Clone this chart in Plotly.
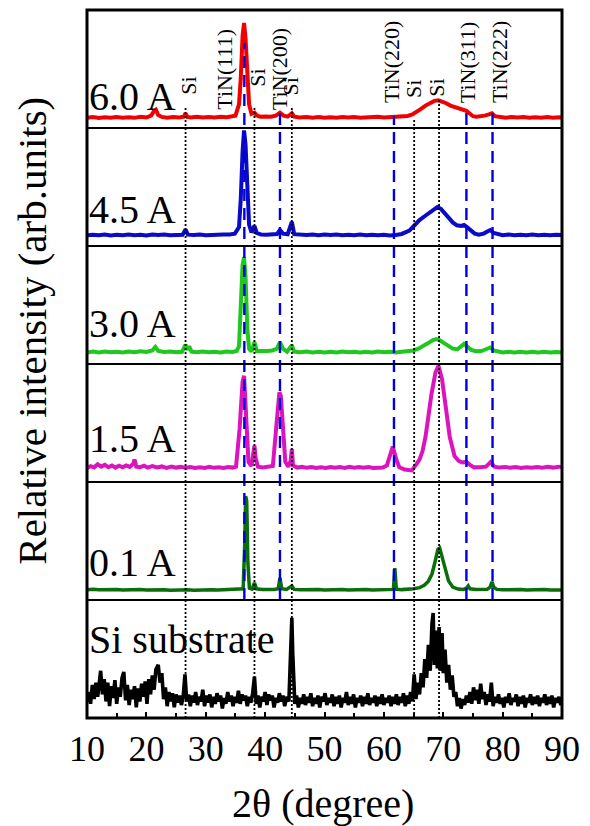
import plotly.graph_objects as go
from plotly.subplots import make_subplots

# ---------------- data ----------------
panel_labels = ["6.0 A", "4.5 A", "3.0 A", "1.5 A", "0.1 A", "Si substrate"]
colors = ["#f00000", "#0a0ac8", "#1ec81e", "#dc14be", "#0a6e0a", "#000000"]

tin_pos = [36.5, 42.5, 61.7, 73.9, 78.3]
tin_names = ["TiN(111)", "TiN(200)", "TiN(220)", "TiN(311)", "TiN(222)"]
tin_top = [72, 17, 10, 17, 17]          # extent of dashed line inside top panel
si_pos = [26.6, 38.2, 44.5, 65.1, 69.3]
si_top = [17, 18, 18, 8, 24.5]          # extent of dotted line inside top panel

x_ticks = [10, 20, 30, 40, 50, 60, 70, 80, 90]

s60 = [(10, 8.6), (11, 9.3), (12, 8.4), (13, 9.1), (14, 8.7), (15, 9.4), (16, 8.8), (17, 9.2), (18, 8.6),
       (19, 9.5), (20, 9.0), (20.8, 10.5), (21.3, 14.5), (21.6, 15.5), (22.0, 11), (22.6, 9.4), (23.5, 8.8),
       (24.5, 9.3), (25.5, 8.9), (26.3, 9.5), (26.6, 12.5), (26.9, 9.4), (27.5, 9.0), (28.5, 9.5), (29.5, 8.9),
       (30.5, 9.4), (31.5, 9.0), (32.5, 9.6), (33.5, 9.2), (34.3, 9.8), (35.0, 10.5), (35.6, 20), (35.9, 42),
       (36.2, 78), (36.45, 89), (36.7, 76), (37.0, 42), (37.3, 20), (37.7, 12), (38.2, 13), (38.6, 10.5),
       (39.2, 9.6), (40.0, 9.8), (41.0, 9.5), (41.8, 10.5), (42.5, 13), (43.1, 10.5), (43.8, 9.6), (44.5, 12.5),
       (44.9, 9.6), (45.8, 9.0), (47, 9.4), (48, 8.8), (49, 9.3), (50, 8.7), (51, 9.2), (52, 8.8), (53, 9.4),
       (54, 8.9), (55, 9.3), (56, 8.7), (57, 9.2), (58, 8.9), (59, 9.5), (60, 9.0), (61, 9.4), (62, 9.2),
       (63, 9.8), (64, 10.2), (64.8, 11.5), (65.5, 13.5), (66.2, 16), (67.0, 19), (67.8, 21.5), (68.5, 23),
       (69.2, 23.5), (69.8, 22.5), (70.5, 21), (71.2, 19), (72.0, 17.5), (72.8, 16), (73.5, 15), (73.9, 14.5),
       (74.4, 12.5), (75.0, 10), (75.6, 9.6), (76.3, 9.8), (77.0, 10.5), (77.7, 11.5), (78.2, 12.5), (78.7, 10),
       (79.5, 9.2), (80.5, 8.8), (81.5, 9.3), (82.5, 8.9), (83.5, 9.4), (84.5, 8.8), (85.5, 9.2), (86.5, 8.7),
       (87.5, 9.3), (88.5, 8.8), (89.5, 9.2), (90, 8.9)]

s45 = [(10, 9.0), (11, 9.6), (12, 9.1), (13, 9.7), (14, 9.0), (15, 9.5), (16, 9.1), (17, 9.8), (18, 9.2),
       (19, 9.6), (20, 9.0), (21, 9.7), (22, 9.3), (23, 9.8), (24, 9.2), (25, 9.6), (26.1, 9.5), (26.6, 14),
       (27.0, 9.6), (28, 9.3), (29, 9.7), (30, 9.2), (31, 9.6), (32, 9.3), (33, 9.8), (34, 9.8), (34.9, 10.5),
       (35.6, 16), (35.9, 40), (36.2, 80), (36.45, 98), (36.7, 86), (37.0, 45), (37.3, 18), (37.7, 11.5),
       (38.2, 17), (38.6, 11), (39.3, 9.8), (40.2, 9.5), (41.2, 9.8), (42.0, 10.2), (42.5, 13.5), (43.0, 10.5),
       (43.8, 10), (44.5, 20.5), (44.9, 10), (45.8, 9.6), (47, 9.3), (48, 9.8), (49, 9.2), (50, 9.7), (51, 9.3),
       (52, 9.8), (53, 9.2), (54, 9.6), (55, 9.1), (56, 9.7), (57, 9.2), (58, 9.6), (59, 9.1), (60, 9.5),
       (61, 9.0), (62, 9.4), (63, 10.2), (64.3, 13), (65.2, 18), (66.0, 22), (66.8, 25), (67.5, 27.5),
       (68.3, 31), (69.0, 33), (69.6, 31.5), (70.2, 28.5), (70.9, 24), (71.6, 20), (72.3, 17.5), (73.0, 17),
       (73.5, 17.8), (74.0, 16), (74.6, 13), (75.3, 10.5), (76.0, 9.5), (76.8, 10.5), (77.5, 12.5), (77.9, 13.5),
       (78.5, 11), (79.3, 9.6), (80, 9.2), (81, 9.7), (82, 9.2), (83, 9.6), (84, 9.1), (85, 9.7), (86, 9.2),
       (87, 9.6), (88, 9.1), (89, 9.6), (90, 9.3)]

s30 = [(10, 9.7), (11, 10.5), (12, 9.8), (13, 10.6), (14, 9.9), (15, 10.4), (16, 9.7), (17, 10.5), (18, 10.0),
       (19, 10.8), (20, 10.2), (21, 11.5), (21.5, 14.5), (22, 11), (23, 10.2), (24, 10.6), (25, 9.9), (26.0, 10.3),
       (26.6, 16.5), (26.9, 12), (27.2, 15), (27.6, 10.5), (28.5, 10), (29.5, 10.6), (30.5, 9.9), (31.5, 10.4),
       (32.5, 9.8), (33.5, 10.5), (34.5, 10.2), (35.2, 11), (35.6, 15), (35.9, 45), (36.2, 84), (36.45, 90.5),
       (36.7, 74), (37.0, 30), (37.3, 13), (37.7, 10.5), (38.2, 18.5), (38.6, 11), (39.4, 10.6), (40.3, 11),
       (41.2, 11.5), (42.0, 13), (42.5, 18.5), (43.0, 13), (43.7, 10.5), (44.5, 16), (44.9, 10.5), (45.8, 10),
       (47, 10.5), (48, 9.8), (49, 10.4), (50, 9.7), (51, 10.3), (52, 9.8), (53, 10.5), (54, 9.9), (55, 10.4),
       (56, 9.7), (57, 10.3), (58, 9.8), (59, 10.5), (60, 9.9), (61, 10.4), (62, 9.8), (63, 10.3), (64, 10.6),
       (65.0, 11.5), (65.8, 13), (66.6, 15), (67.4, 17.5), (68.2, 20), (68.8, 21), (69.4, 20), (70.0, 18),
       (70.8, 15), (71.6, 13), (72.4, 12.5), (73.0, 14.5), (73.5, 17), (74.0, 15), (74.7, 12), (75.5, 10.8),
       (76.4, 11), (77.2, 12.5), (77.9, 14), (78.5, 11.5), (79.3, 10.3), (80, 9.8), (81, 10.4), (82, 9.8),
       (83, 10.3), (84, 9.7), (85, 10.4), (86, 9.8), (87, 10.3), (88, 9.7), (89, 10.2), (90, 9.8)]

s15 = [(10, 11.8), (10.6, 13.5), (11.2, 12.4), (11.8, 15), (12.4, 13), (13, 14.5), (13.6, 12.5), (14.2, 14),
       (14.8, 12.2), (15.4, 13.8), (16, 12.5), (16.6, 14), (17.2, 12.8), (17.8, 15.5), (18.0, 19), (18.3, 13),
       (19, 12.6), (19.6, 13.8), (20.2, 12.2), (21, 13.5), (21.8, 12.4), (22.6, 13.2), (23.4, 12.0), (24.2, 13.0),
       (25, 12.2), (25.8, 12.8), (26.6, 12.0), (27.4, 12.6), (28.2, 11.8), (29, 12.4), (29.8, 11.9), (30.6, 12.8),
       (31.4, 12.0), (32.2, 12.5), (33, 11.8), (33.8, 12.6), (34.5, 12.2), (35.1, 13), (35.7, 45), (36.2, 85),
       (36.45, 90), (36.75, 60), (37.2, 17), (37.7, 13.5), (38.0, 22), (38.2, 31), (38.4, 20), (38.8, 13),
       (39.6, 12.4), (40.4, 12.8), (41.3, 13.5), (41.9, 48), (42.4, 76), (42.65, 73), (43.0, 42), (43.4, 17),
       (43.9, 13), (44.3, 18), (44.5, 28), (44.7, 14), (45.4, 12.2), (46.2, 12.8), (47, 12.0), (47.8, 12.6),
       (48.6, 11.8), (49.4, 12.5), (50.2, 11.9), (51, 12.6), (51.8, 12.0), (52.6, 12.7), (53.4, 11.9), (54.2, 12.8),
       (55, 12.1), (55.8, 12.7), (56.6, 12.0), (57.4, 12.6), (58.2, 11.9), (59, 12.4), (59.8, 12.2), (60.5, 14),
       (61.0, 21.5), (61.5, 30), (62.1, 19), (62.6, 12.5), (63.5, 10.5), (64.7, 9.8), (65.4, 14.5), (66.0, 19),
       (66.5, 26), (67.0, 38), (67.4, 52), (68.0, 74), (68.7, 93), (69.2, 98.5), (69.8, 87), (70.3, 66),
       (71.1, 38), (71.9, 22), (72.6, 18), (73.2, 16.5), (73.9, 17), (74.5, 14.5), (75.2, 12.4), (76.2, 12.6),
       (77.2, 13), (78.0, 17), (78.6, 13), (79.5, 12.2), (80.4, 12.8), (81.3, 12.0), (82.2, 12.6), (83.1, 11.9),
       (84, 12.5), (84.9, 12.0), (85.8, 12.7), (86.7, 12.1), (87.6, 12.9), (88.5, 12.2), (89.4, 13), (90, 12.4)]

s01 = [(10, 8.6), (11, 9.0), (12, 8.6), (13, 8.9), (14, 8.5), (15, 8.8), (16, 8.4), (17, 8.8), (18, 8.5),
       (19, 8.9), (20, 8.5), (21, 8.8), (22, 8.4), (23, 8.7), (24, 8.3), (25, 8.6), (26, 8.4), (27, 8.7),
       (28, 8.3), (29, 8.6), (30, 8.4), (31, 8.7), (32, 8.5), (33, 8.8), (34, 8.6), (35, 8.9), (35.9, 9.0),
       (36.3, 9.5), (36.55, 45), (36.72, 88), (36.9, 84), (37.1, 31), (37.35, 10), (37.8, 9.2), (38.2, 14.5),
       (38.55, 9.5), (39.5, 9.0), (40.5, 8.8), (41.5, 9.0), (42.2, 9.5), (42.5, 18.8), (42.8, 9.5), (43.6, 9.0),
       (44.5, 12), (44.9, 9.0), (46, 8.7), (47, 8.9), (48, 8.5), (49, 8.8), (50, 8.4), (51, 8.7), (52, 8.5),
       (53, 8.8), (54, 8.4), (55, 8.7), (56, 8.5), (57, 8.8), (58, 8.4), (59, 8.7), (60, 8.5), (61, 8.8),
       (61.6, 9), (61.85, 27), (62.1, 9.2), (63, 8.8), (64, 9.0), (65.0, 9.5), (66.0, 10.5), (66.8, 12.5),
       (67.5, 16), (68.1, 22), (68.6, 32), (69.1, 43), (69.4, 44), (69.8, 36), (70.3, 25), (70.9, 16),
       (71.6, 11), (72.5, 9.3), (73.4, 9.0), (73.9, 10), (74.2, 12), (74.5, 9.5), (75.5, 8.9), (76.5, 8.8),
       (77.4, 9.0), (77.9, 11), (78.2, 15.5), (78.5, 11), (79.0, 9.0), (80, 8.6), (81, 8.8), (82, 8.5),
       (83, 8.8), (84, 8.4), (85, 8.7), (86, 8.5), (87, 8.8), (88, 8.4), (89, 8.7), (90, 8.5)]

s_si = [(10.0, 14), (10.3, 22), (10.6, 12), (10.9, 28), (11.2, 16), (11.5, 30), (11.8, 18), (12.1, 36),
        (12.3, 40), (12.6, 20), (12.9, 33), (13.2, 14), (13.5, 30), (13.8, 10), (14.1, 27), (14.4, 17),
        (14.7, 32), (15.0, 12), (15.3, 26), (15.6, 18), (15.9, 34), (16.2, 39), (16.5, 15), (16.8, 28),
        (17.1, 11), (17.4, 24), (17.7, 16), (18.0, 27), (18.3, 9), (18.6, 25), (18.9, 14), (19.2, 29),
        (19.5, 18), (19.8, 31), (20.1, 12), (20.4, 33), (20.7, 20), (21.0, 36), (21.3, 24), (21.6, 41),
        (22.0, 45), (22.3, 30), (22.6, 38), (22.9, 16), (23.2, 26), (23.5, 10), (23.8, 22), (24.1, 14),
        (24.4, 21), (24.7, 9), (25.0, 20), (25.3, 13), (25.6, 19), (25.9, 11), (26.2, 18), (26.5, 37),
        (26.8, 14), (27.1, 20), (27.4, 10), (27.7, 19), (28.0, 13), (28.3, 22), (28.6, 11), (28.9, 18),
        (29.2, 14), (29.5, 24), (29.8, 10), (30.1, 19), (30.4, 13), (30.7, 20), (31.0, 9), (31.3, 18),
        (31.6, 12), (31.9, 21), (32.2, 14), (32.5, 19), (32.8, 8), (33.1, 17), (33.4, 12), (33.7, 22),
        (34.0, 14), (34.3, 19), (34.6, 10), (34.9, 18), (35.2, 13), (35.5, 23), (35.8, 12), (36.1, 20),
        (36.4, 15), (36.7, 19), (37.0, 10), (37.3, 18), (37.6, 13), (37.9, 21), (38.2, 35), (38.5, 12),
        (38.8, 19), (39.1, 9), (39.4, 18), (39.7, 14), (40.0, 22), (40.3, 11), (40.6, 20), (40.9, 15),
        (41.2, 19), (41.5, 9), (41.8, 17), (42.1, 13), (42.4, 21), (42.7, 14), (43.0, 19), (43.3, 10),
        (43.6, 18), (44.0, 14), (44.35, 60), (44.5, 85), (44.65, 55), (45.0, 12), (45.3, 19), (45.6, 9),
        (45.9, 17), (46.2, 12), (46.5, 20), (46.8, 11), (47.1, 18), (47.4, 13), (47.7, 21), (48.0, 10),
        (48.3, 17), (48.6, 12), (48.9, 19), (49.2, 9), (49.5, 18), (49.8, 14), (50.1, 21), (50.4, 11),
        (50.7, 17), (51.0, 13), (51.3, 20), (51.6, 10), (51.9, 18), (52.2, 12), (52.5, 19), (52.8, 9),
        (53.1, 17), (53.4, 13), (53.7, 22), (54.0, 11), (54.3, 18), (54.6, 12), (54.9, 20), (55.2, 9),
        (55.5, 17), (55.8, 13), (56.1, 19), (56.4, 10), (56.7, 18), (57.0, 12), (57.3, 21), (57.6, 11),
        (57.9, 17), (58.2, 13), (58.5, 19), (58.8, 10), (59.1, 18), (59.4, 12), (59.7, 20), (60.0, 11),
        (60.3, 17), (60.6, 13), (60.9, 19), (61.2, 10), (61.5, 18), (61.8, 12), (62.1, 20), (62.4, 11),
        (62.7, 18), (63.0, 13), (63.3, 21), (63.6, 10), (63.9, 19), (64.2, 12), (64.5, 22), (64.8, 14),
        (65.1, 37), (65.4, 16), (65.7, 30), (66.0, 20), (66.3, 38), (66.6, 26), (66.9, 50), (67.2, 34),
        (67.5, 62), (67.8, 40), (68.1, 80), (68.3, 89), (68.5, 45), (68.8, 74), (69.0, 42), (69.3, 77),
        (69.5, 40), (69.8, 72), (70.0, 38), (70.3, 58), (70.6, 30), (70.9, 45), (71.2, 24), (71.5, 36),
        (71.8, 18), (72.1, 22), (72.4, 10), (72.7, 17), (73.0, 8), (73.3, 16), (73.6, 11), (73.9, 19),
        (74.2, 13), (74.5, 22), (74.8, 12), (75.1, 26), (75.4, 15), (75.7, 24), (76.0, 12), (76.3, 29),
        (76.6, 16), (76.9, 22), (77.2, 11), (77.5, 20), (77.8, 14), (78.1, 30), (78.4, 10), (78.7, 18),
        (79.0, 13), (79.3, 20), (79.6, 12), (79.9, 17), (80.2, 9), (80.5, 18), (80.8, 13), (81.1, 21),
        (81.4, 11), (81.7, 17), (82.0, 14), (82.3, 20), (82.6, 10), (82.9, 18), (83.2, 12), (83.5, 19),
        (83.8, 9), (84.1, 17), (84.4, 13), (84.7, 20), (85.0, 11), (85.3, 18), (85.6, 12), (85.9, 19),
        (86.2, 10), (86.5, 17), (86.8, 13), (87.1, 20), (87.4, 11), (87.7, 18), (88.0, 12), (88.3, 19),
        (88.6, 9), (88.9, 17), (89.2, 13), (89.5, 18), (89.8, 11), (90.0, 15)]

series = [s60, s45, s30, s15, s01, s_si]

# ---------------- layout helpers ----------------
W, H = 590, 826
ML, MR, MT, MB = 87, 22, 10, 108
PW, PH = W - ML - MR, H - MT - MB
FONT = "'Liberation Serif', 'Times New Roman', Times, 'DejaVu Serif', serif"


def py(px):   # pixel y -> paper y
    return (H - MB - px) / PH


def pxx(px):  # pixel x -> paper x
    return (px - ML) / PW


N = len(series)
fig = make_subplots(rows=N, cols=1, shared_xaxes=True, vertical_spacing=0)

widths = [4, 4, 4, 4, 3.5, 3.6]
for i, s in enumerate(series):
    fig.add_trace(go.Scatter(x=[p[0] for p in s], y=[p[1] for p in s], mode="lines",
                             line=dict(color=colors[i], width=widths[i]),
                             showlegend=False, hoverinfo="skip"), row=i + 1, col=1)

for i in range(1, N + 1):
    fig.update_yaxes(range=[0, 100], showticklabels=False, showgrid=False, zeroline=False,
                     showline=False, ticks="", row=i, col=1)
    fig.update_xaxes(range=[10, 90], showgrid=False, zeroline=False, showline=False,
                     showticklabels=False, ticks="", row=i, col=1)

fig.update_xaxes(showticklabels=True, tickvals=x_ticks, ticktext=[str(v) for v in x_ticks],
                 ticks="inside", ticklen=6, tickwidth=2, tickcolor="black",
                 minor=dict(dtick=5, tick0=10, ticks="inside", ticklen=5, tickwidth=2, tickcolor="black"),
                 tickfont=dict(family=FONT, size=36, color="black"), ticklabelstandoff=6,
                 row=N, col=1)

shapes = []
panel_h = 1.0 / N
for pos, top in zip(tin_pos, tin_top):
    shapes.append(dict(type="line", xref="x", yref="paper", x0=pos, x1=pos,
                       y0=panel_h, y1=(N - 1) * panel_h + top / 100 * panel_h,
                       line=dict(color="#0000dc", width=2.4, dash="12px,7px"), layer="above"))
for pos, top in zip(si_pos, si_top):
    shapes.append(dict(type="line", xref="x", yref="paper", x0=pos, x1=pos,
                       y0=0, y1=(N - 1) * panel_h + top / 100 * panel_h,
                       line=dict(color="black", width=1.8, dash="2px,2px"), layer="above"))
for i in range(1, N):
    shapes.append(dict(type="line", xref="paper", yref="paper", x0=0, x1=1,
                       y0=i * panel_h, y1=i * panel_h, line=dict(color="black", width=2), layer="above"))
shapes.append(dict(type="rect", xref="paper", yref="paper", x0=0, x1=1, y0=0, y1=1,
                   line=dict(color="black", width=3), layer="above"))

annotations = []
label_centers_px = [96, 210, 323, 438, 562, 639]
for txt, cy in zip(panel_labels, label_centers_px):
    annotations.append(dict(text=txt, xref="paper", yref="paper", x=pxx(87), y=py(cy),
                            xanchor="left", yanchor="middle", showarrow=False,
                            font=dict(family=FONT, size=40, color="black")))

peak_texts = ["Si", "TiN(111)", "Si", "TiN(200)", "Si", "TiN(220)", "Si", "Si", "TiN(311)", "TiN(222)"]
peak_text_x = [26.96, 33.1, 38.6, 42.36, 44.26, 61.2, 64.9, 68.9, 74.04, 79.4]
peak_text_bottom_px = [96, 111, 88, 111, 96, 104, 99, 98, 104, 104]
for t, x, b in zip(peak_texts, peak_text_x, peak_text_bottom_px):
    annotations.append(dict(text=t, xref="x", yref="paper", x=x, y=py(b), textangle=-90,
                            xanchor="center", yanchor="bottom", showarrow=False, borderpad=0,
                            font=dict(family=FONT, size=22, color="black")))

annotations.append(dict(text="Relative intensity (arb.units)", xref="paper", yref="paper",
                        x=pxx(31), y=py(331), textangle=-90, xanchor="center", yanchor="middle",
                        showarrow=False, font=dict(family=FONT, size=41, color="black")))
annotations.append(dict(text="2θ (degree)", xref="paper", yref="paper",
                        x=pxx(326), y=py(803), xanchor="center", yanchor="middle",
                        showarrow=False, font=dict(family=FONT, size=40, color="black")))

fig.update_layout(width=W, height=H, autosize=False,
                  margin=dict(l=ML, r=MR, t=MT, b=MB),
                  paper_bgcolor="white", plot_bgcolor="white",
                  font=dict(family=FONT),
                  shapes=shapes, annotations=annotations, showlegend=False)

fig.write_html("out.html")
